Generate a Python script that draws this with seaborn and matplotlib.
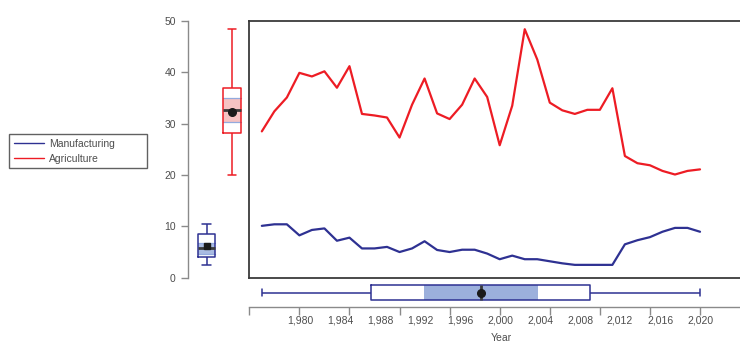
import numpy as np
import pandas as pd
import matplotlib
matplotlib.use("Agg")
import matplotlib.pyplot as plt
from matplotlib.patches import Rectangle
from matplotlib.lines import Line2D
import seaborn as sns

# ---------------- data ----------------
years = [1985, 1986, 1987, 1988, 1989, 1990, 1991, 1992, 1993, 1994, 1995, 1996,
         1997, 1998, 1999, 2000, 2001, 2002, 2003, 2004, 2005, 2006, 2007, 2008,
         2009, 2010, 2011, 2012, 2013, 2014, 2015, 2016, 2017, 2018, 2019, 2020]
manufacturing = [10.1, 10.4, 10.4, 8.25, 9.3, 9.6, 7.2, 7.8, 5.7, 5.7, 6.0, 5.0,
                 5.7, 7.1, 5.4, 5.0, 5.45, 5.45, 4.7, 3.6, 4.3, 3.6, 3.6, 3.2,
                 2.8, 2.5, 2.5, 2.5, 2.5, 6.5, 7.3, 7.9, 8.95, 9.7, 9.7, 8.95]
agriculture = [28.5, 32.4, 35.1, 39.9, 39.2, 40.2, 37.0, 41.2, 31.9, 31.6, 31.2, 27.3,
               33.7, 38.8, 32.0, 30.9, 33.7, 38.8, 35.2, 25.8, 33.5, 48.4, 42.5, 34.1,
               32.6, 31.9, 32.7, 32.7, 36.9, 23.7, 22.3, 21.9, 20.8, 20.1, 20.8, 21.1]
sectors = ["Manufacturing", "Agriculture"]
y_ticks = [0, 10, 20, 30, 40, 50]
x_major_ticks = [1984, 1988, 1992, 1996, 2000, 2004, 2008, 2012, 2016, 2020]
x_tick_labels = ["1,980", "1,984", "1,988", "1,992", "1,996", "2,000",
                 "2,004", "2,008", "2,012", "2,016", "2,020"]

df = pd.DataFrame({
    "Year": years * 2,
    "Sector": ["Manufacturing"] * len(years) + ["Agriculture"] * len(years),
    "Value": manufacturing + agriculture,
})
years_df = pd.DataFrame({"Year": years})

BLUE = "#2e3192"
RED = "#ed1c24"
palette = {"Manufacturing": BLUE, "Agriculture": RED}
GRAY = "#8a8a8a"
TXT = "#4d4d4d"

sns.set_style("white")
plt.rcParams["font.family"] = ["Liberation Sans", "DejaVu Sans"]

W, H = 740, 343
fig = plt.figure(figsize=(W / 100, H / 100), dpi=100)


def ax_px(l, t, r, b):
    return fig.add_axes([l / W, 1 - b / H, (r - l) / W, (b - t) / H])


PX_PER_YEAR = 12.52
X0 = 1984
XR = X0 + (753 - 249.3) / PX_PER_YEAR

ax_left = ax_px(188.3, 21, 249.3, 277.7)
ax_main = ax_px(249.3, 21, 753, 277.7)
ax_bot = ax_px(249.3, 277.7, 753, 307.3)

# ---------------- main line chart ----------------
sns.lineplot(data=df, x="Year", y="Value", hue="Sector", hue_order=sectors,
             palette=palette, linewidth=1.6, legend=False, ax=ax_main)
ax_main.set_xlim(X0, XR)
ax_main.set_ylim(0, 50)
ax_main.set_xticks([])
ax_main.set_yticks([])
ax_main.set_xlabel("")
ax_main.set_ylabel("")
for s in ["left", "top", "bottom"]:
    ax_main.spines[s].set_color("#3a3a3a")
    ax_main.spines[s].set_linewidth(1.3)
ax_main.spines["right"].set_visible(False)


def notch_band(vals):
    v = np.asarray(vals, float)
    q1, med, q3 = np.percentile(v, [25, 50, 75])
    h = 1.57 * (q3 - q1) / np.sqrt(len(v))
    return med - h, med + h


med_props = dict(color="#3a3a3a", linewidth=2.0)

# ---------------- left vertical boxplots ----------------
sns.boxplot(data=df, x="Sector", y="Value", hue="Sector", order=sectors,
            hue_order=sectors, palette=palette, fill=False, width=0.69,
            whis=(0, 100), linewidth=1.1, showmeans=True,
            meanprops=dict(marker="o", markerfacecolor="#1a1a1a",
                           markeredgecolor="#1a1a1a", markersize=5.5),
            medianprops=med_props, legend=False, ax=ax_left)
band_colors = {"Manufacturing": "#a9bbe2", "Agriculture": "#f6c3c3"}
for i, (name, vals) in enumerate(zip(sectors, [manufacturing, agriculture])):
    lo, hi = notch_band(vals)
    ax_left.add_patch(Rectangle((i - 0.345, lo), 0.69, hi - lo,
                                facecolor=band_colors[name], edgecolor="none", zorder=0.5))
    for yy in (lo, hi):
        ax_left.plot([i - 0.345, i + 0.345], [yy, yy], color="#93aade", lw=0.9, zorder=0.6)
# mean marker of first box as square
for ln in ax_left.lines:
    if ln.get_marker() == "o":
        xd = np.asarray(ln.get_xdata(), float)
        if len(xd) and abs(xd[0]) < 0.3:
            ln.set_marker("s")
            ln.set_markersize(4.2)
ax_left.set_xlim(-0.714, 1.678)
ax_left.set_ylim(0, 50)
ax_left.set_yticks(y_ticks)
ax_left.set_yticklabels([str(t) for t in y_ticks])
ax_left.tick_params(axis="y", direction="out", length=5, width=1, color=GRAY,
                    labelcolor=TXT, labelsize=7.5, pad=4, left=True)
ax_left.set_xticks([])
ax_left.set_xlabel("")
ax_left.set_ylabel("")
for s in ["top", "right", "bottom"]:
    ax_left.spines[s].set_visible(False)
ax_left.spines["left"].set_color(GRAY)
ax_left.spines["left"].set_linewidth(1.0)
ax_left.patch.set_alpha(0)

# ---------------- bottom horizontal boxplot (Year) ----------------
sns.boxplot(data=years_df, x="Year", orient="h", color=BLUE, fill=False,
            width=0.5, whis=(0, 100), linewidth=1.1, showmeans=True,
            meanprops=dict(marker="o", markerfacecolor="#1a1a1a",
                           markeredgecolor="#1a1a1a", markersize=5.5),
            medianprops=med_props, ax=ax_bot)
lo, hi = notch_band(years)
ax_bot.add_patch(Rectangle((lo, -0.25), hi - lo, 0.5, facecolor="#9cb0dc",
                           edgecolor="none", zorder=0.5))
ax_bot.set_xlim(X0, XR)
ax_bot.set_ylim(0.5, -0.5)
ax_bot.set_yticks([])
ax_bot.set_ylabel("")
for s in ["top", "right", "left"]:
    ax_bot.spines[s].set_visible(False)
ax_bot.spines["bottom"].set_color(GRAY)
ax_bot.spines["bottom"].set_linewidth(1.0)
ax_bot.xaxis.remove_overlapping_locs = False
ax_bot.set_xticks(x_major_ticks)
ax_bot.set_xticklabels([""] * len(x_major_ticks))
label_pos = np.linspace(2020 - 400 / PX_PER_YEAR, 2020, len(x_tick_labels))
ax_bot.set_xticks(label_pos, minor=True)
ax_bot.set_xticklabels(x_tick_labels, minor=True)
ax_bot.tick_params(axis="x", which="major", direction="out", length=6, width=1,
                   color=GRAY, bottom=True)
ax_bot.tick_params(axis="x", which="minor", length=0, labelcolor=TXT,
                   labelsize=7.5, pad=6)
ax_bot.set_xlabel("Year", color=TXT, fontsize=7.5, labelpad=5)
ax_bot.patch.set_alpha(0)

# ---------------- legend ----------------
handles = [Line2D([], [], color=BLUE, lw=1.0), Line2D([], [], color=RED, lw=1.0)]
leg = fig.legend(handles, sectors, loc="upper left",
                 bbox_to_anchor=(9.3 / W, 1 - 170.7 / H, (146.7 - 9.3) / W, (170.7 - 134.3) / H),
                 mode="expand", frameon=True, fancybox=False, borderaxespad=0,
                 fontsize=7.5, handlelength=2.9, handletextpad=0.5,
                 labelspacing=0.45, borderpad=0.45)
leg.get_frame().set_edgecolor("#3a3a3a")
leg.get_frame().set_linewidth(1.0)
for t in leg.get_texts():
    t.set_color(TXT)

fig.savefig("out.png", dpi=100)
